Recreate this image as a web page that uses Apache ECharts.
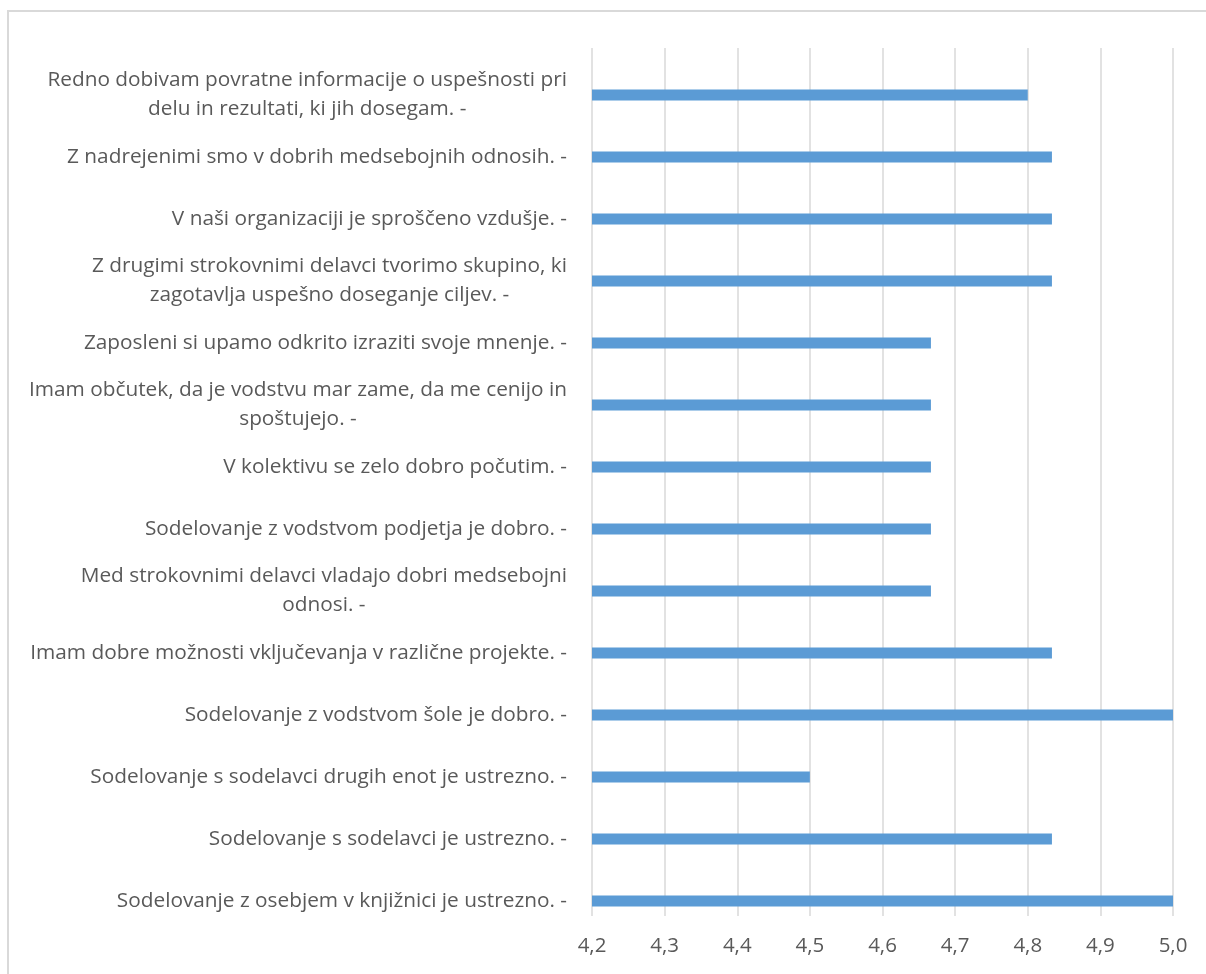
<!DOCTYPE html>
<html>
<head>
<meta charset="utf-8">
<script src="https://cdn.jsdelivr.net/npm/echarts@6/dist/echarts.min.js"></script>
<style>
  html, body { margin: 0; padding: 0; background: #ffffff; }
  #chart { width: 1206px; height: 974px; }
</style>
</head>
<body>
<div id="chart"></div>
<script>
// Survey statements (top to bottom) and their average scores
const statements = [
  'Redno dobivam povratne informacije o uspešnosti pri\ndelu in rezultati, ki jih dosegam. -',
  'Z nadrejenimi smo v dobrih medsebojnih odnosih. -',
  'V naši organizaciji je sproščeno vzdušje. -',
  'Z drugimi strokovnimi delavci tvorimo skupino, ki\nzagotavlja uspešno doseganje ciljev. -',
  'Zaposleni si upamo odkrito izraziti svoje mnenje. -',
  'Imam občutek, da je vodstvu mar zame, da me cenijo in\nspoštujejo. -',
  'V kolektivu se zelo dobro počutim. -',
  'Sodelovanje z vodstvom podjetja je dobro. -',
  'Med strokovnimi delavci vladajo dobri medsebojni\nodnosi. -',
  'Imam dobre možnosti vključevanja v različne projekte. -',
  'Sodelovanje z vodstvom šole je dobro. -',
  'Sodelovanje s sodelavci drugih enot je ustrezno. -',
  'Sodelovanje s sodelavci je ustrezno. -',
  'Sodelovanje z osebjem v knjižnici je ustrezno. -'
];

const averageScores = [
  4.8, 4.8333, 4.8333, 4.8333, 4.6667, 4.6667, 4.6667,
  4.6667, 4.6667, 4.8333, 5.0, 4.5, 4.8333, 5.0
];

// Second (empty) series of the clustered layout
const emptySeries = statements.map(() => null);

const axisMin = 4.2;
const axisMax = 5.0;
const axisStep = 0.1;

const textColor = '#595959';
const fontFamily = '"Open Sans", "Noto Sans", sans-serif';

const chart = echarts.init(document.getElementById('chart'), null, { renderer: 'canvas' });

chart.setOption({
  animation: false,
  backgroundColor: '#ffffff',
  graphic: [{
    type: 'rect',
    shape: { x: 8, y: 11, width: 1400, height: 1200 },
    style: { fill: 'none', stroke: '#d9d9d9', lineWidth: 2 },
    silent: true
  }],
  grid: { left: 592, right: 33, top: 48, bottom: 58, containLabel: false },
  xAxis: {
    type: 'value',
    min: axisMin,
    max: axisMax,
    interval: axisStep,
    axisLine: { show: false },
    axisTick: { show: false },
    splitLine: { show: true, lineStyle: { color: '#d9d9d9', width: 1.5 } },
    axisLabel: {
      margin: 20,
      color: textColor,
      fontFamily: fontFamily,
      fontSize: 20.5,
      formatter: v => v.toFixed(1).replace('.', ',')
    }
  },
  yAxis: {
    type: 'category',
    inverse: true,
    data: statements,
    axisLine: { show: false },
    axisTick: { show: false },
    splitLine: { show: false },
    axisLabel: {
      margin: 25,
      interval: 0,
      align: 'right',
      verticalAlign: 'middle',
      padding: [32, 0, 0, 0],
      formatter: v => v.split('\n').map(l => '{c|' + l + '}').join('\n'),
      rich: {
        c: {
          align: 'center',
          color: textColor,
          fontFamily: fontFamily,
          fontSize: 20.8,
          lineHeight: 29
        }
      }
    }
  },
  series: [
    {
      name: 'prazno',
      type: 'bar',
      data: emptySeries,
      barWidth: 11,
      barGap: '191%'
    },
    {
      name: 'Povprečje',
      type: 'bar',
      data: averageScores,
      barWidth: 11,
      barGap: '191%',
      itemStyle: { color: '#5b9bd5' }
    }
  ]
});
</script>
</body>
</html>
